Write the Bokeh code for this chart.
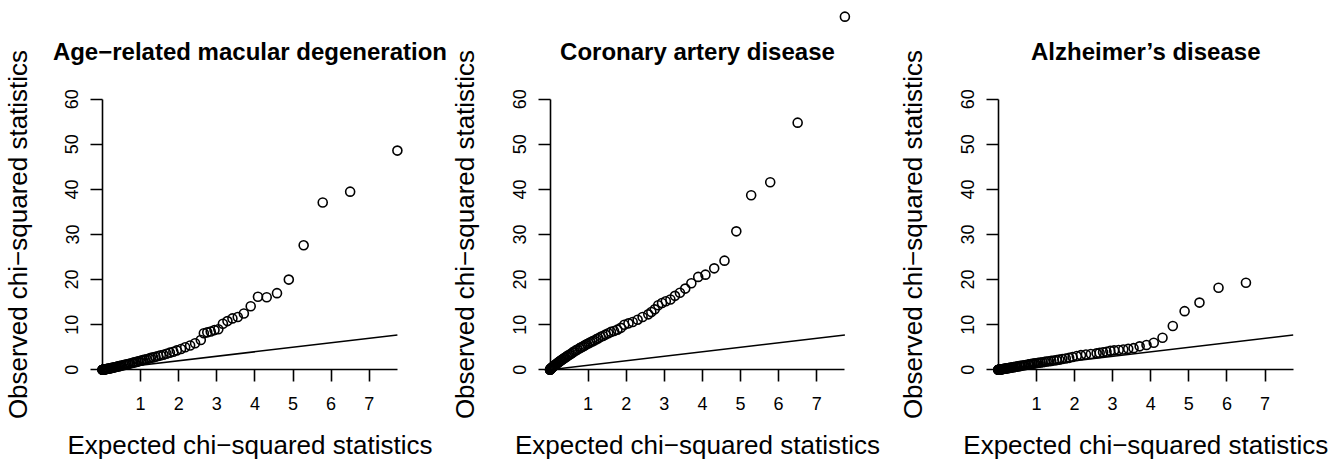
from bokeh.plotting import figure
from bokeh.models import LinearAxis, FixedTicker, Label, Range1d
from bokeh.layouts import row
from bokeh.embed import file_html
from bokeh.resources import INLINE

# ---------------- data ----------------
titles = ["Age\u2212related macular degeneration", "Coronary artery disease", "Alzheimer\u2019s disease"]
x_title = "Expected chi\u2212squared statistics"
y_title = "Observed chi\u2212squared statistics"
x_ticks = [1, 2, 3, 4, 5, 6, 7]
y_ticks = [0, 10, 20, 30, 40, 50, 60]

expected = [7.74, 6.50, 5.78, 5.28, 4.89, 4.58, 4.31, 4.08, 3.89, 3.71,
            3.55, 3.41, 3.28, 3.16, 3.04, 2.94, 2.84, 2.75, 2.66, 2.58,
            2.43, 2.30, 2.17, 2.06, 1.95, 1.86, 1.77, 1.68, 1.60, 1.53,
            1.46, 1.39, 1.33, 1.27, 1.22, 1.16, 1.11, 1.06, 1.02, 0.97,
            0.93, 0.89, 0.85, 0.81, 0.78,
            0.72, 0.68, 0.63, 0.59, 0.55, 0.51, 0.47, 0.44, 0.405, 0.375,
            0.345, 0.318, 0.292, 0.267, 0.244, 0.222, 0.201,
            0.175, 0.151, 0.130, 0.110, 0.092, 0.0756, 0.061, 0.048, 0.0366, 0.0268,
            0.0185, 0.0118, 0.0066, 0.0029, 0.0007,
            0.0]

observed_amd = [48.6, 39.5, 37.1, 27.6, 20.0, 17.0, 16.1, 16.2, 14.1, 12.5,
                11.7, 11.4, 10.8, 10.2, 9.0, 8.8, 8.5, 8.3, 8.1, 6.6,
                5.9, 5.4, 5.0, 4.6, 4.3, 4.0, 3.8, 3.55, 3.35, 3.2,
                3.05, 2.9, 2.75, 2.65, 2.5, 2.35, 2.25, 2.15, 2.05, 1.95,
                1.85, 1.75, 1.68, 1.6, 1.5,
                1.4, 1.3, 1.2, 1.12, 1.03, 0.95, 0.88, 0.81, 0.75, 0.69,
                0.63, 0.57, 0.52, 0.47, 0.42, 0.38, 0.35,
                0.3, 0.26, 0.22, 0.18, 0.15, 0.12, 0.1, 0.08, 0.06, 0.045,
                0.03, 0.02, 0.01, 0.005, 0.001,
                0.0]

observed_cad = [78.3, 54.8, 41.6, 38.7, 30.7, 24.2, 22.5, 21.1, 20.6, 19.2,
                18.0, 17.1, 16.4, 15.6, 15.2, 14.8, 14.3, 13.4, 12.8, 12.3,
                11.7, 11.1, 10.6, 10.3, 10.0, 9.3, 8.9, 8.6, 8.4, 8.1,
                7.8, 7.5, 7.3, 7.0, 6.8, 6.5, 6.3, 6.1, 5.9, 5.7,
                5.5, 5.3, 5.1, 4.95, 4.8,
                4.5, 4.3, 4.05, 3.8, 3.55, 3.35, 3.15, 2.95, 2.75, 2.6,
                2.4, 2.25, 2.1, 1.95, 1.8, 1.65, 1.52,
                1.35, 1.2, 1.05, 0.92, 0.8, 0.68, 0.57, 0.47, 0.38, 0.3,
                0.22, 0.15, 0.09, 0.04, 0.01,
                0.0]

# top Alzheimer's point lies above the visible area
observed_ad = [float("nan"), 19.3, 18.2, 14.9, 13.0, 9.7, 7.1, 6.0, 5.5, 5.2,
               4.8, 4.65, 4.5, 4.4, 4.3, 4.2, 4.0, 3.9, 3.75, 3.65,
               3.5, 3.4, 3.25, 3.05, 2.85, 2.65, 2.5, 2.4, 2.25, 2.15,
               2.05, 1.97, 1.9, 1.83, 1.76, 1.68, 1.62, 1.55, 1.5, 1.43,
               1.38, 1.32, 1.26, 1.2, 1.15,
               1.07, 1.0, 0.93, 0.87, 0.81, 0.75, 0.69, 0.64, 0.59, 0.55,
               0.5, 0.46, 0.42, 0.39, 0.35, 0.32, 0.29,
               0.25, 0.22, 0.19, 0.16, 0.13, 0.11, 0.09, 0.07, 0.053, 0.039,
               0.027, 0.017, 0.009, 0.004, 0.001,
               0.0]

series = [observed_amd, observed_cad, observed_ad]

# ---------------- layout ----------------
FONT = "Liberation Sans"
HEIGHT = 463
PX_X = 38.1      # px per x unit
PX_Y = 4.51      # px per y unit
Y0_PX = 369.3    # canvas px (from top) of y = 0

# (canvas width, canvas px of x = 0)
panel_geom = [(448, 102.0), (448, 101.5), (448, 101.8)]


def make_panel(title, obs, width, x0_px):
    xs = -x0_px / PX_X
    xe = xs + width / PX_X
    ye = Y0_PX / PX_Y
    ys = ye - HEIGHT / PX_Y
    p = figure(width=width, height=HEIGHT,
               x_range=Range1d(xs, xe), y_range=Range1d(ys, ye),
               x_axis_type=None, y_axis_type=None,
               output_backend="svg", toolbar_location=None,
               min_border=0, min_border_left=0, min_border_right=0,
               min_border_top=0, min_border_bottom=0)
    p.outline_line_color = None
    p.background_fill_color = "white"
    p.border_fill_color = "white"

    xmax = max(expected)
    xaxis = LinearAxis(fixed_location=0, bounds=(0, xmax),
                       ticker=FixedTicker(ticks=x_ticks, minor_ticks=[]))
    yaxis = LinearAxis(fixed_location=0, bounds=(min(y_ticks), max(y_ticks)),
                       ticker=FixedTicker(ticks=y_ticks, minor_ticks=[]),
                       major_label_orientation="vertical")
    for ax in (xaxis, yaxis):
        ax.axis_line_color = "black"
        ax.axis_line_width = 1.6
        ax.major_tick_line_color = "black"
        ax.major_tick_line_width = 1.6
        ax.major_tick_out = 12
        ax.major_tick_in = 0
        ax.minor_tick_out = 0
        ax.minor_tick_in = 0
        ax.major_label_text_font = FONT
        ax.major_label_text_font_size = "18px"
        ax.major_label_text_color = "black"
    xaxis.major_label_standoff = 15
    yaxis.major_label_standoff = 12
    p.add_layout(xaxis, "below")
    p.add_layout(yaxis, "left")

    p.line([0, xmax], [0, xmax], line_color="black", line_width=1.5)
    p.scatter(expected, obs, marker="circle", size=9,
              fill_color=None, line_color="black", line_width=1.6)

    xc = (min(expected) + xmax) / 2
    p.add_layout(Label(x=xc, y=(Y0_PX - 51.4) / PX_Y, text=title,
                       text_align="center", text_baseline="alphabetic",
                       text_font=FONT, text_font_size="24px",
                       text_font_style="bold", text_color="black"))
    p.add_layout(Label(x=xc, y=(Y0_PX - 444.5) / PX_Y, text=x_title,
                       text_align="center", text_baseline="alphabetic",
                       text_font=FONT, text_font_size="26px", text_color="black"))
    p.add_layout(Label(x=-85.0 / PX_X, y=(min(y_ticks) + max(y_ticks)) / 2,
                       text=y_title, angle=90, angle_units="deg",
                       text_align="center", text_baseline="alphabetic",
                       text_font=FONT, text_font_size="26px", text_color="black"))
    return p


panels = [make_panel(t, s, *g) for t, s, g in zip(titles, series, panel_geom)]
layout = row(*panels)

open("out.html", "w").write(file_html(layout, INLINE))
